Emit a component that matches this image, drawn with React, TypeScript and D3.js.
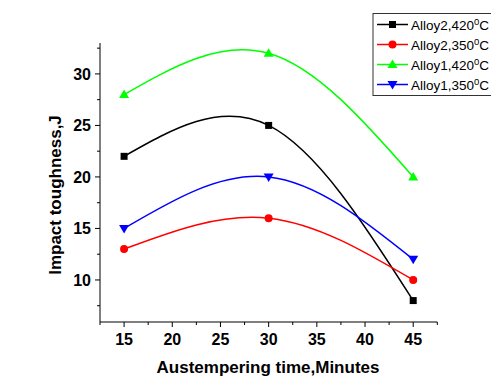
import React from "react";
import * as d3 from "d3";

const times = [15, 30, 45];
const seriesNames = ["Alloy2,420", "Alloy2,350", "Alloy1,420", "Alloy1,350"];
const alloy2_420 = [22, 25, 8];
const alloy2_350 = [13, 16, 10];
const alloy1_420 = [28, 32, 20];
const alloy1_350 = [15, 20, 12];
const xTicks = [15, 20, 25, 30, 35, 40, 45];
const yTicks = [10, 15, 20, 25, 30];

const colors = ["#000000", "#ff0000", "#00ff00", "#0000ff"];
const markers = ["square", "circle", "triangle", "triangleDown"];
const seriesValues = [alloy2_420, alloy2_350, alloy1_420, alloy1_350];

const W = 491, H = 379;
const left = 100, right = 437.3, top = 43, bottom = 322;

function Marker({ type, x, y, color }: { type: string; x: number; y: number; color: string }) {
  if (type === "square") return <rect x={x - 3.5} y={y - 3.5} width={7} height={7} fill={color} />;
  if (type === "circle") return <circle cx={x} cy={y} r={4} fill={color} />;
  if (type === "triangle")
    return <path d={`M${x},${y - 5} L${x + 5},${y + 3.5} L${x - 5},${y + 3.5} Z`} fill={color} />;
  return <path d={`M${x},${y + 5} L${x + 5},${y - 3.5} L${x - 5},${y - 3.5} Z`} fill={color} />;
}

export default function App() {
  const x = d3.scaleLinear().domain([12.5, 47.5]).range([left, right]);
  const y = d3.scaleLinear().domain([5.92, 33]).range([bottom, top]);
  const line = d3
    .line<number>()
    .x((_, i) => x(times[i]))
    .y((d) => y(d))
    .curve(d3.curveNatural);

  const xMinor = d3.range(12.5, 47.6, 2.5);
  const yMinor = d3.range(7.5, 33, 2.5);
  const font = "'Liberation Sans', Arial, sans-serif";

  const legX = 373, legY = 13.5, legRow = 20;

  return (
    <svg width={W} height={H} style={{ position: "absolute", left: 0, top: 0, background: "#fff" }} fontFamily={font}>
      <rect x={0} y={0} width={W} height={H} fill="#fff" />
      {/* axes */}
      <line x1={left} x2={left} y1={top} y2={bottom} stroke="#000" strokeWidth={1} />
      <line x1={left} x2={right} y1={bottom} y2={bottom} stroke="#000" strokeWidth={1} />
      {xMinor.map((t) => {
        const major = xTicks.includes(t);
        return <line key={"xm" + t} x1={x(t)} x2={x(t)} y1={bottom} y2={bottom + (major ? 5 : 3)} stroke="#000" />;
      })}
      {yMinor.map((t) => {
        const major = yTicks.includes(t);
        return <line key={"ym" + t} x1={left} x2={left - (major ? 5 : 3)} y1={y(t)} y2={y(t)} stroke="#000" />;
      })}
      {xTicks.map((t) => (
        <text key={"xt" + t} x={x(t)} y={bottom + 23} textAnchor="middle" fontSize={16} fontWeight="bold">
          {t}
        </text>
      ))}
      {yTicks.map((t) => (
        <text key={"yt" + t} x={left - 9} y={y(t) + 6} textAnchor="end" fontSize={16} fontWeight="bold">
          {t}
        </text>
      ))}
      <text x={268} y={373} textAnchor="middle" fontSize={17} fontWeight="bold">
        Austempering time,Minutes
      </text>
      <text
        transform={`translate(61,195) rotate(-90)`}
        textAnchor="middle"
        fontSize={17}
        fontWeight="bold"
      >
        Impact toughness,J
      </text>
      {/* series */}
      {seriesValues.map((vals, si) => (
        <g key={"s" + si}>
          <path d={line(vals) || ""} fill="none" stroke={colors[si]} strokeWidth={1.5} />
          {vals.map((v, i) => (
            <Marker key={i} type={markers[si]} x={x(times[i])} y={y(v)} color={colors[si]} />
          ))}
        </g>
      ))}
      {/* legend */}
      <rect x={legX} y={legY} width={130} height={82} fill="#fff" stroke="#333" strokeWidth={1} />
      {seriesNames.map((n, i) => {
        const cy = legY + 11 + i * legRow;
        return (
          <g key={"l" + i}>
            <line x1={377} x2={408} y1={cy} y2={cy} stroke={colors[i]} strokeWidth={1.5} />
            <Marker type={markers[i]} x={392.5} y={cy} color={colors[i]} />
            <text x={411} y={cy + 5} fontSize={13.5}>
              {n}
              <tspan fontSize={9.5} dy={-5}>0</tspan>
              <tspan dy={5}>C</tspan>
            </text>
          </g>
        );
      })}
    </svg>
  );
}
